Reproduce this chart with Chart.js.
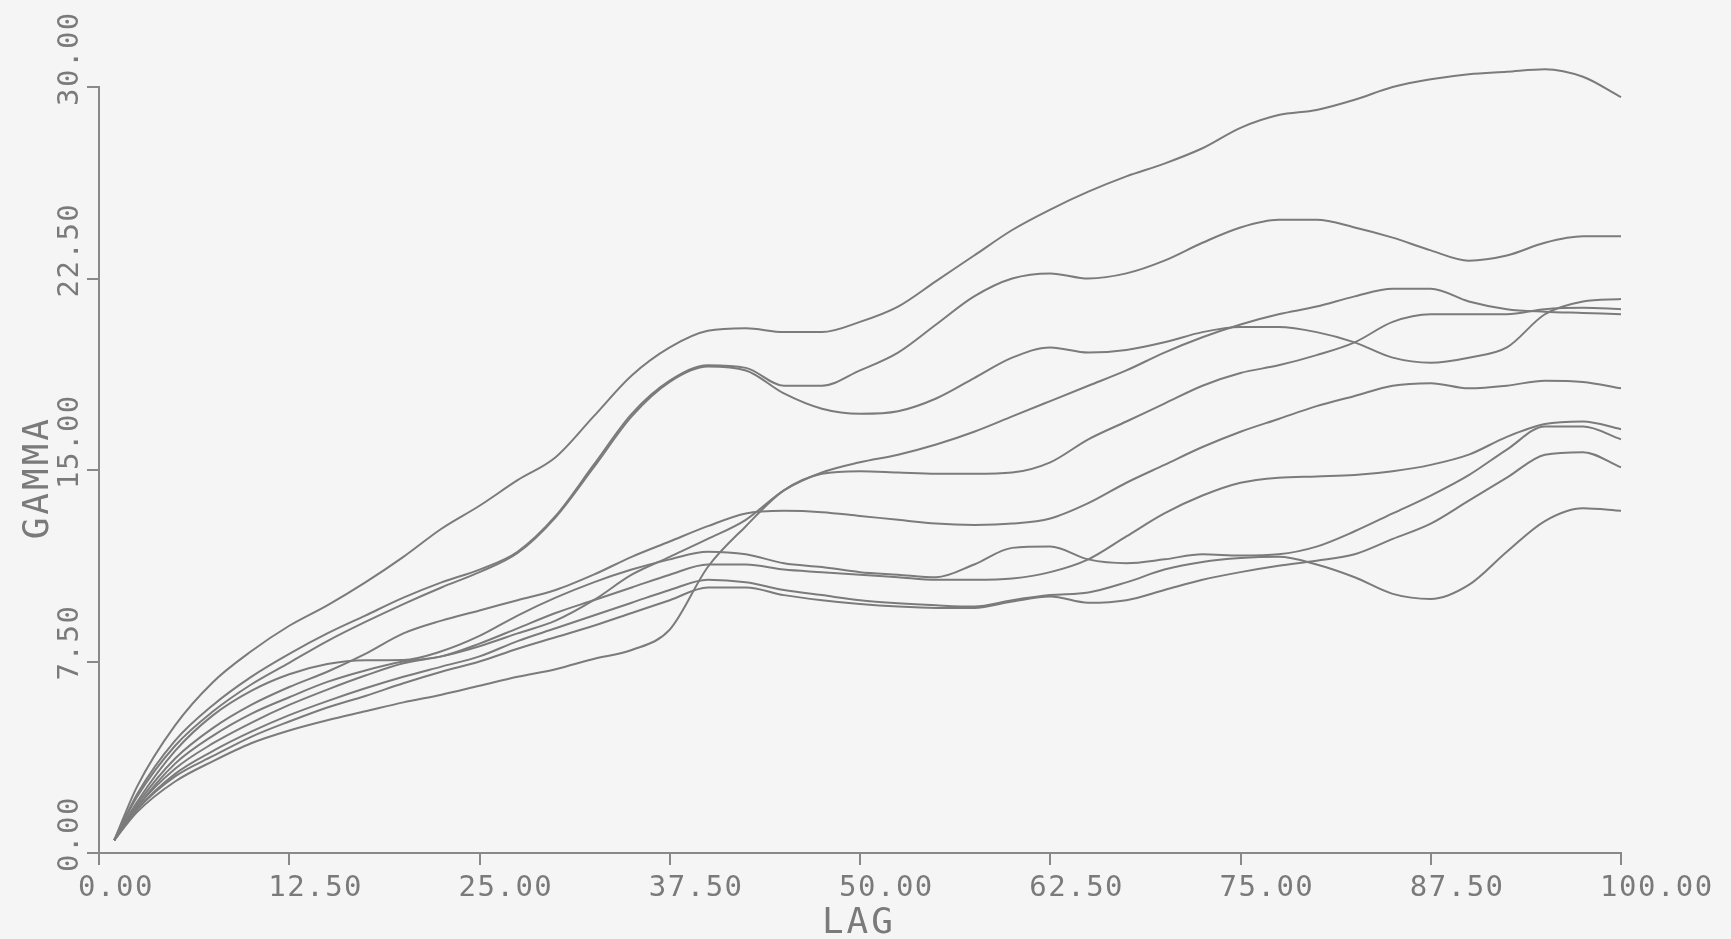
<!DOCTYPE html>
<html>
<head>
<meta charset="utf-8">
<title>Gamma vs lag</title>
<script src="https://cdn.jsdelivr.net/npm/chart.js@4/dist/chart.umd.min.js"></script>
<style>
  html, body { margin: 0; padding: 0; background: #f5f5f5; }
  canvas { display: block; }
</style>
</head>
<body>
<canvas id="gammaChart" width="1731" height="939"></canvas>
<script>
// lag values shared by every curve
const lag = [1, 2.5, 5, 7.5, 10, 12.5, 15, 17.5, 20, 22.5, 25, 27.5, 30, 32.5, 35, 37.5, 40, 42.5, 45, 47.5,
             50, 52.5, 55, 57.5, 60, 62.5, 65, 67.5, 70, 72.5, 75, 77.5, 80, 82.5, 85, 87.5, 90, 92.5, 95, 97.5, 100];

// gamma for each curve, one value per lag
const gammaA = [0.5, 2.6, 5.0, 6.7, 7.9, 8.9, 9.7, 10.6, 11.6, 12.7, 13.6, 14.6, 15.5, 17.1, 18.7, 19.8, 20.45, 20.55, 20.4, 20.4,
                20.8, 21.4, 22.4, 23.4, 24.4, 25.2, 25.9, 26.5, 27.0, 27.6, 28.4, 28.9, 29.1, 29.5, 30.0, 30.3, 30.5, 30.6, 30.7, 30.4, 29.6];
const gammaB1 = [0.5, 2.3, 4.4, 5.8, 6.9, 7.8, 8.6, 9.3, 10.0, 10.6, 11.1, 11.8, 13.2, 15.2, 17.2, 18.5, 19.1, 19.0, 18.3, 18.3,
                 18.9, 19.6, 20.7, 21.8, 22.5, 22.7, 22.5, 22.7, 23.2, 23.9, 24.5, 24.8, 24.8, 24.5, 24.1, 23.6, 23.2, 23.4, 23.9, 24.15, 24.15];
const gammaB2 = [0.5, 2.2, 4.2, 5.55, 6.6, 7.45, 8.3, 9.05, 9.75, 10.4, 11.0, 11.75, 13.15, 15.1, 17.1, 18.45, 19.05, 18.9, 18.0, 17.4,
                 17.2, 17.3, 17.8, 18.6, 19.4, 19.8, 19.6, 19.7, 20.0, 20.4, 20.6, 20.6, 20.4, 20.0, 19.4, 19.2, 19.4, 19.8, 21.1, 21.6, 21.7];
const gammaC = [0.5, 1.8, 3.3, 4.3, 5.1, 5.8, 6.4, 6.95, 7.43, 7.7, 8.1, 8.6, 9.1, 9.9, 10.9, 11.6, 12.3, 13.05, 14.2, 14.9,
                15.3, 15.6, 16.0, 16.5, 17.1, 17.7, 18.3, 18.9, 19.6, 20.2, 20.7, 21.1, 21.4, 21.8, 22.1, 22.1, 21.6, 21.3, 21.2, 21.15, 21.1];
const gammaD = [0.5, 1.6, 2.8, 3.6, 4.3, 4.8, 5.2, 5.55, 5.9, 6.2, 6.55, 6.9, 7.2, 7.6, 7.95, 8.75, 11.2, 12.8, 14.2, 14.85,
                14.95, 14.9, 14.85, 14.85, 14.9, 15.3, 16.2, 16.9, 17.6, 18.3, 18.8, 19.1, 19.5, 20.0, 20.8, 21.1, 21.1, 21.1, 21.3, 21.35, 21.3];
const gammaE = [0.5, 1.9, 3.7, 4.9, 5.8, 6.5, 7.1, 7.8, 8.6, 9.1, 9.5, 9.9, 10.3, 10.9, 11.6, 12.2, 12.8, 13.3, 13.4, 13.35,
                13.2, 13.05, 12.9, 12.85, 12.9, 13.1, 13.7, 14.5, 15.2, 15.9, 16.5, 17.0, 17.5, 17.9, 18.3, 18.4, 18.2, 18.3, 18.5, 18.45, 18.2];
const gammaF = [0.5, 1.8, 3.5, 4.6, 5.45, 6.1, 6.7, 7.15, 7.5, 7.7, 8.2, 8.8, 9.4, 9.9, 10.4, 10.9, 11.3, 11.3, 11.1, 11.0,
                10.9, 10.8, 10.7, 10.7, 10.75, 11.0, 11.5, 12.4, 13.3, 14.0, 14.5, 14.7, 14.75, 14.8, 14.95, 15.2, 15.6, 16.3, 16.8, 16.9, 16.6];
const gammaG = [0.5, 2.0, 4.0, 5.4, 6.35, 7.0, 7.4, 7.55, 7.56, 7.9, 8.5, 9.3, 10.0, 10.6, 11.1, 11.5, 11.8, 11.7, 11.35, 11.2,
                11.0, 10.9, 10.8, 11.3, 11.95, 12.0, 11.5, 11.35, 11.5, 11.7, 11.65, 11.7, 12.0, 12.6, 13.3, 14.0, 14.8, 15.8, 16.7, 16.7, 16.2];
const gammaH = [0.5, 1.7, 3.1, 4.0, 4.75, 5.4, 5.95, 6.45, 6.9, 7.3, 7.7, 8.3, 8.8, 9.3, 9.8, 10.3, 10.7, 10.6, 10.3, 10.1,
                9.9, 9.78, 9.7, 9.65, 9.9, 10.1, 10.2, 10.6, 11.1, 11.4, 11.55, 11.6, 11.3, 10.8, 10.15, 9.95, 10.5, 11.8, 13.0, 13.5, 13.4];
const gammaI = [0.5, 1.7, 3.0, 3.8, 4.55, 5.15, 5.7, 6.15, 6.65, 7.1, 7.5, 8.0, 8.45, 8.9, 9.4, 9.9, 10.4, 10.4, 10.1, 9.9,
                9.75, 9.65, 9.6, 9.6, 9.85, 10.05, 9.8, 9.9, 10.3, 10.7, 11.0, 11.25, 11.45, 11.7, 12.3, 12.9, 13.8, 14.7, 15.6, 15.7, 15.1];

const curves = [gammaA, gammaB1, gammaB2, gammaC, gammaD, gammaE, gammaF, gammaG, gammaH, gammaI];

const lagTicks = [0, 12.5, 25, 37.5, 50, 62.5, 75, 87.5, 100];
const gammaTicks = [0, 7.5, 15, 22.5, 30];
const xTitle = 'LAG';
const yTitle = 'GAMMA';

const INK = '#7b7b7b';
const AXIS = '#898989';
const TEXT = '#7a7a7a';
const FONT = '"DejaVu Sans Mono", "Liberation Mono", monospace';

// tick labels and axis titles in the plotter style: labels start a little
// before their tick, y labels read bottom to top
const axisText = {
    id: 'axisText',
    afterDraw: (chart) => {
        const { ctx, chartArea, scales: { x, y } } = chart;
        ctx.save();
        ctx.fillStyle = TEXT;
        ctx.textBaseline = 'alphabetic';
        ctx.textAlign = 'left';
        ctx.font = '29px ' + FONT;
        ctx.letterSpacing = '1.5px';
        lagTicks.forEach(v => {
            ctx.fillText(v.toFixed(2), x.getPixelForValue(v) - 21, chartArea.bottom + 43);
        });
        gammaTicks.forEach(v => {
            ctx.save();
            ctx.translate(chartArea.left - 21, y.getPixelForValue(v) + 19);
            ctx.rotate(-Math.PI / 2);
            ctx.fillText(v.toFixed(2), 0, 0);
            ctx.restore();
        });

        ctx.font = '36px ' + FONT;
        ctx.letterSpacing = '3px';
        ctx.fillText(xTitle, x.getPixelForValue(47.5), chartArea.bottom + 80);
        ctx.save();
        ctx.translate(chartArea.left - 51, y.getPixelForValue(14.7));
        ctx.rotate(-Math.PI / 2);
        ctx.textAlign = 'center';
        ctx.fillText(yTitle, 0, 0);
        ctx.restore();
        ctx.restore();
    }
};

const axisStyle = {
    grid: {
        display: true,
        drawOnChartArea: false,
        drawTicks: true,
        tickLength: 12,
        color: AXIS,
        lineWidth: 2
    },
    border: { display: true, color: AXIS, width: 2 }
};

new Chart(
    document.getElementById('gammaChart'),
    {
        type: 'line',
        data: {
            datasets: curves.map((values, index) => ({
                label: 'curve ' + (index + 1),
                data: lag.map((x, i) => ({ x: x, y: values[i] })),
                borderColor: INK,
                borderWidth: 2,
                fill: false,
                clip: false,
                cubicInterpolationMode: 'monotone',
                pointRadius: 0
            }))
        },
        options: {
            responsive: false,
            devicePixelRatio: 1,
            animation: false,
            layout: {
                padding: { left: 87, right: 110, top: 87, bottom: 74 }
            },
            plugins: {
                legend: { display: false },
                tooltip: { enabled: false }
            },
            scales: {
                x: {
                    type: 'linear',
                    min: 0,
                    max: 100,
                    ticks: { stepSize: 12.5, display: false },
                    ...axisStyle
                },
                y: {
                    type: 'linear',
                    min: 0,
                    max: 30,
                    ticks: { stepSize: 7.5, display: false },
                    ...axisStyle
                }
            }
        },
        plugins: [axisText]
    }
);
</script>
</body>
</html>
